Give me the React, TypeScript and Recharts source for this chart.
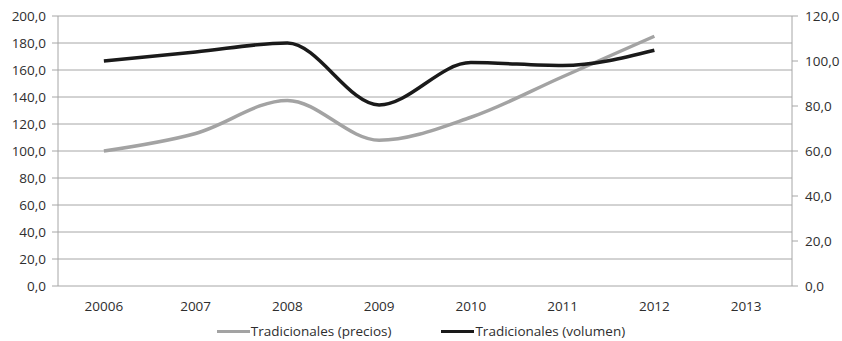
import { LineChart, Line, XAxis, YAxis, CartesianGrid, Legend } from "recharts";

const years = ["20006", "2007", "2008", "2009", "2010", "2011", "2012", "2013"];
const precios = [100, 113, 137.5, 108, 125, 155, 185, null];
const volumen = [100, 104, 108, 80.5, 99.3, 98, 104.8, null];
const leftTicks = [0, 20, 40, 60, 80, 100, 120, 140, 160, 180, 200];
const rightTicks = [0, 20, 40, 60, 80, 100, 120];

// category centres carry the labels, band edges carry the tick marks
const labelTicks = years.map((_, i) => i);
const edgeTicks = [...years.map((_, i) => i - 0.5), years.length - 0.5];

const data = years.map((year, i) => ({
  idx: i,
  year,
  precios: precios[i],
  volumen: volumen[i],
}));

const FONT = "'Open Sans', 'Liberation Sans', sans-serif";
const TEXT = "#2e2e2e";
const AXIS = "#a6a6a6";

const fmt = (v: number) => v.toFixed(1).replace(".", ",");

const tickStyle = { fontFamily: FONT, fontSize: 13.5, fill: TEXT };

function LegendRow(props: any) {
  const items = props.payload || [];
  return (
    <div
      style={{
        display: "flex",
        justifyContent: "center",
        gap: 50,
        paddingTop: 13,
        fontFamily: FONT,
        fontSize: 13.5,
        lineHeight: "15px",
        color: TEXT,
      }}
    >
      {items.map((item: any) => (
        <span key={item.value} style={{ display: "flex", alignItems: "center" }}>
          <span
            style={{
              display: "inline-block",
              width: 33,
              height: 3.5,
              background: item.color,
              marginRight: 1,
            }}
          />
          {item.value}
        </span>
      ))}
    </div>
  );
}

export default function App() {
  return (
    <div style={{ position: "absolute", left: 0, top: 0, background: "#fff" }}>
      <LineChart
        width={842}
        height={341}
        data={data}
        margin={{ top: 16, right: 0, bottom: 0, left: 0 }}
      >
        <CartesianGrid yAxisId="left" vertical={false} stroke={AXIS} strokeWidth={1} />
        <XAxis
          xAxisId="edges"
          type="number"
          domain={[-0.5, years.length - 0.5]}
          ticks={edgeTicks}
          tick={false}
          tickSize={5}
          height={0}
          stroke={AXIS}
          allowDataOverflow
        />
        <XAxis
          xAxisId="labels"
          type="number"
          dataKey="idx"
          domain={[-0.5, years.length - 0.5]}
          ticks={labelTicks}
          tickFormatter={(i: number) => years[i]}
          axisLine={false}
          tickLine={false}
          tickSize={4}
          tickMargin={11}
          height={25}
          tick={tickStyle}
          interval={0}
          allowDataOverflow
        />
        <YAxis
          yAxisId="left"
          domain={[0, 200]}
          ticks={leftTicks}
          tickFormatter={fmt}
          width={58}
          tickSize={6}
          tickMargin={6}
          stroke={AXIS}
          tick={tickStyle}
          interval={0}
        />
        <YAxis
          yAxisId="right"
          orientation="right"
          domain={[0, 120]}
          ticks={rightTicks}
          tickFormatter={fmt}
          width={50}
          tickSize={6}
          tickMargin={7}
          stroke={AXIS}
          tick={{ ...tickStyle, textAnchor: "start" }}
          interval={0}
        />
        <Legend verticalAlign="bottom" height={30} content={LegendRow} />
        <Line
          xAxisId="labels"
          yAxisId="left"
          type="monotone"
          dataKey="precios"
          name="Tradicionales (precios)"
          stroke="#a3a3a3"
          strokeWidth={3.5}
          dot={false}
          activeDot={false}
          isAnimationActive={false}
        />
        <Line
          xAxisId="labels"
          yAxisId="right"
          type="monotone"
          dataKey="volumen"
          name="Tradicionales (volumen)"
          stroke="#1a1a1a"
          strokeWidth={3.5}
          dot={false}
          activeDot={false}
          isAnimationActive={false}
        />
      </LineChart>
    </div>
  );
}
